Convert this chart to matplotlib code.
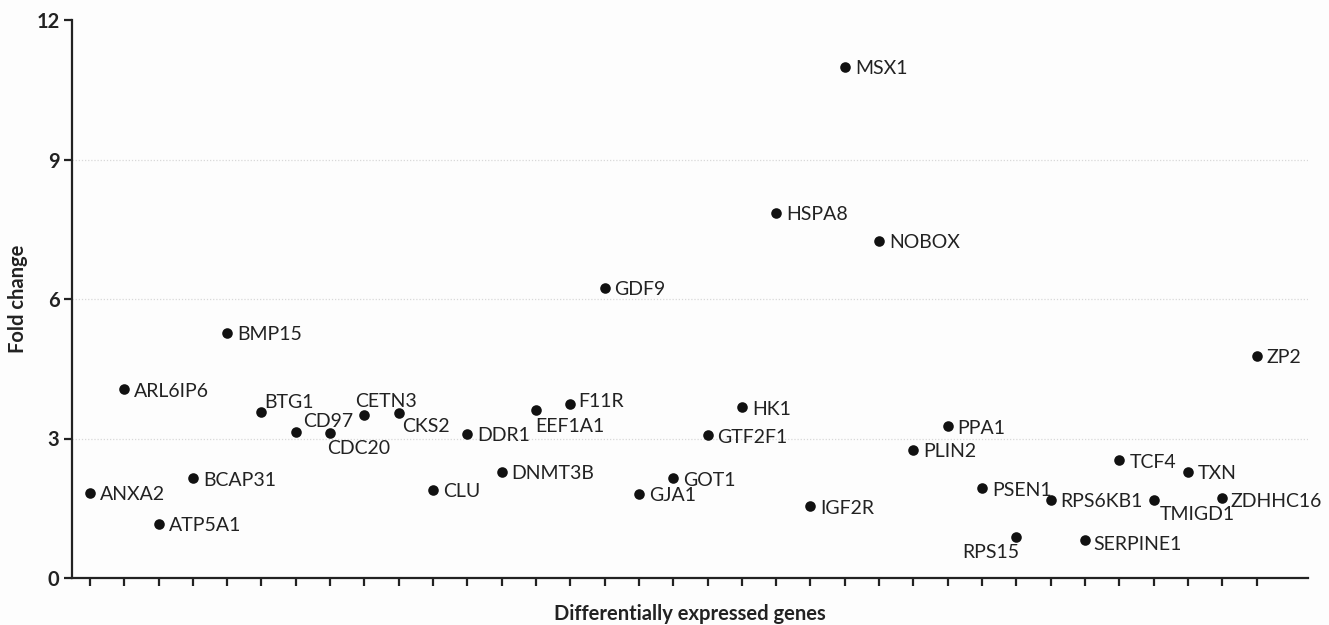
import matplotlib
matplotlib.use("Agg")
import matplotlib.pyplot as plt

plt.rcParams["font.family"] = ["Lato", "DejaVu Sans"]

genes = ["ANXA2", "ARL6IP6", "ATP5A1", "BCAP31", "BMP15", "BTG1", "CD97", "CDC20",
         "CETN3", "CKS2", "CLU", "DDR1", "DNMT3B", "EEF1A1", "F11R", "GDF9", "GJA1",
         "GOT1", "GTF2F1", "HK1", "HSPA8", "IGF2R", "MSX1", "NOBOX", "PLIN2", "PPA1",
         "PSEN1", "RPS15", "RPS6KB1", "SERPINE1", "TCF4", "TMIGD1", "TXN", "ZDHHC16", "ZP2"]
fold_change = [1.83, 4.06, 1.17, 2.15, 5.27, 3.56, 3.13, 3.11,
               3.51, 3.55, 1.90, 3.10, 2.28, 3.62, 3.75, 6.24, 1.81,
               2.15, 3.07, 3.67, 7.85, 1.54, 11.0, 7.25, 2.76, 3.26,
               1.93, 0.89, 1.68, 0.81, 2.53, 1.68, 2.29, 1.71, 4.78]
y_ticks = [0, 3, 6, 9, 12]

# label placement (pixels from the dot); default is to the right
label_pos = {
    "BTG1": (3, 10, "left"),
    "CD97": (7, 11, "left"),
    "CDC20": (-3, -15, "left"),
    "CETN3": (-9, 13, "left"),
    "CKS2": (3, -14, "left"),
    "EEF1A1": (-1, -17, "left"),
    "F11R": (8, 2, "left"),
    "RPS15": (3, -16, "right"),
    "SERPINE1": (8, -4, "left"),
    "TMIGD1": (6, -15, "left"),
    "ZDHHC16": (8, -3, "left"),
}

fig = plt.figure(figsize=(13.29, 6.25), dpi=100)
fig.patch.set_facecolor("#fdfdfd")
ax = fig.add_axes([0.0542, 0.0752, 0.9300, 0.8928])
ax.set_facecolor("#fdfdfd")

x = list(range(len(genes)))
ax.scatter(x, fold_change, s=58, color="#111111", zorder=3, linewidths=0)

for i, (g, v) in enumerate(zip(genes, fold_change)):
    dx, dy, ha = label_pos.get(g, (10, -2, "left"))
    ax.annotate(g, (i, v), xytext=(dx, dy), textcoords="offset pixels",
                ha=ha, va="center", fontsize=14, color="#222222")

ax.set_xlim(-0.52, len(genes) + 0.5)
ax.set_ylim(0, 12)
ax.set_xticks(x)
ax.set_xticklabels([])
ax.set_yticks(y_ticks)
ax.set_yticklabels([str(t) for t in y_ticks], fontsize=14.5, fontweight="bold", color="#222222")

for t in y_ticks[1:-1]:
    ax.axhline(t, color="#d8d8d8", lw=0.9, ls=(0, (1, 1.5)), zorder=1)

for s in ["top", "right"]:
    ax.spines[s].set_visible(False)
for s in ["left", "bottom"]:
    ax.spines[s].set_linewidth(1.6)
    ax.spines[s].set_color("#222222")
ax.tick_params(axis="both", direction="out", length=6, width=1.6, color="#222222")
ax.tick_params(axis="y", pad=3)

ax.set_xlabel("Differentially expressed genes", fontsize=14.5, fontweight="bold",
              color="#222222", labelpad=9)
ax.set_ylabel("Fold change", fontsize=14.5, fontweight="bold", color="#222222", labelpad=6)

fig.savefig("out.png", dpi=100, facecolor=fig.get_facecolor())
